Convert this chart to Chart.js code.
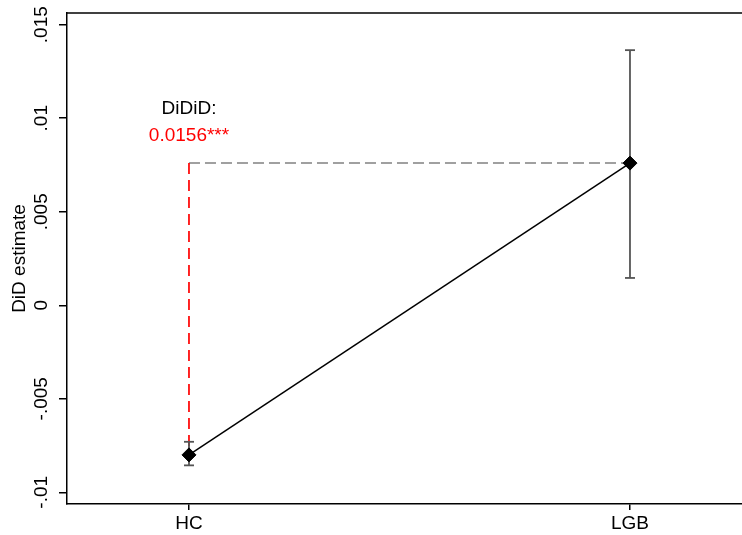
<!DOCTYPE html>
<html>
<head>
<meta charset="utf-8">
<script src="https://cdn.jsdelivr.net/npm/chart.js@4.4.1/dist/chart.umd.min.js"></script>
<style>
  html, body { margin: 0; padding: 0; background: #fff; overflow: hidden; }
  canvas { display: block; }
</style>
</head>
<body>
<canvas id="c" width="742" height="535"></canvas>
<script>
// ---- data ----
const categories = ['HC', 'LGB'];
const estimates = [-0.0080, 0.0076];
const ciLow = [-0.00856, 0.00146];
const ciHigh = [-0.0073, 0.01364];
const yTickValues = [-0.01, -0.005, 0, 0.005, 0.01, 0.015];
const yTickLabels = ['-.01', '-.005', '0', '.005', '.01', '.015'];
const dididTitle = 'DiDiD:';
const dididValue = '0.0156***';
const yTitle = 'DiD estimate';

const FONT = '"Liberation Sans", Arial, sans-serif';
const xPos = categories.map((c, i) => i + 1);

const datasets = [];
// main line with diamonds (on top)
datasets.push({
  data: xPos.map((x, i) => ({x, y: estimates[i]})),
  borderColor: '#000', borderWidth: 1.5,
  pointStyle: 'rectRot', pointRadius: 7, pointHoverRadius: 7,
  pointBackgroundColor: '#000', pointBorderColor: '#000', pointBorderWidth: 1
});
// confidence intervals
xPos.forEach((x, i) => {
  datasets.push({
    data: [{x, y: ciLow[i]}, {x, y: ciHigh[i]}],
    borderColor: '#555', borderWidth: 1.8,
    pointStyle: 'line', pointRadius: 5, pointHoverRadius: 5,
    pointBorderColor: '#555', pointBorderWidth: 1.8
  });
});
// red dashed vertical (difference)
datasets.push({
  data: [{x: xPos[0], y: estimates[1]}, {x: xPos[0], y: estimates[0]}],
  borderColor: '#ff0000', borderWidth: 1.7, borderDash: [11, 6],
  pointRadius: 0
});
// grey dashed horizontal
datasets.push({
  data: [{x: xPos[0], y: estimates[1]}, {x: xPos[1], y: estimates[1]}],
  borderColor: '#a0a0a0', borderWidth: 2, borderDash: [11, 5],
  pointRadius: 0
});

const frame = {
  id: 'frame',
  afterDraw(chart) {
    const {ctx, chartArea: a, scales} = chart;
    ctx.save();
    ctx.strokeStyle = '#000';
    ctx.lineWidth = 1.5;
    ctx.beginPath();
    ctx.moveTo(a.left, a.top);
    ctx.lineTo(a.right, a.top);
    ctx.stroke();
    const px = scales.x.getPixelForValue(xPos[0]);
    const py = scales.y.getPixelForValue(estimates[1]);
    ctx.font = '19px ' + FONT;
    ctx.textAlign = 'center';
    ctx.textBaseline = 'middle';
    ctx.fillStyle = '#000';
    ctx.fillText(dididTitle, px, py - 54);
    ctx.fillStyle = '#ff0000';
    ctx.fillText(dididValue, px, py - 27);
    ctx.restore();
  }
};

new Chart(document.getElementById('c'), {
  type: 'line',
  data: { datasets },
  options: {
    responsive: false, animation: false, devicePixelRatio: 1,
    layout: { autoPadding: false, padding: { top: 13, right: 0, left: 0, bottom: 0 } },
    plugins: { legend: { display: false }, tooltip: { enabled: false } },
    scales: {
      x: {
        type: 'linear', min: 0.7234, max: 2.254,
        afterBuildTicks: s => { s.ticks = xPos.map(v => ({value: v})); },
        afterFit: s => { s.height = 31; s.paddingLeft = 0; s.paddingRight = 0; },
        ticks: {
          callback: v => categories[Math.round(v) - 1],
          font: { family: FONT, size: 19 }, color: '#000', padding: 2,
          maxRotation: 0, minRotation: 0
        },
        grid: { drawOnChartArea: false, drawTicks: true, tickLength: 6, color: '#000', lineWidth: 1.5 },
        border: { display: true, color: '#000', width: 1.5 }
      },
      y: {
        type: 'linear', min: -0.010626, max: 0.015626,
        afterBuildTicks: s => { s.ticks = yTickValues.map(v => ({value: v})); },
        afterFit: s => { s.width = 67; s.paddingTop = 0; s.paddingBottom = 0; s.paddingLeft = 0; s.paddingRight = 0; },
        ticks: {
          callback: (v, i) => yTickLabels[i],
          font: { family: FONT, size: 19 }, color: '#000',
          minRotation: 90, maxRotation: 90, crossAlign: 'center', padding: -4
        },
        grid: { drawOnChartArea: false, drawTicks: true, tickLength: 8, color: '#000', lineWidth: 1.5 },
        border: { display: true, color: '#000', width: 1.5 },
        title: { display: true, text: yTitle, font: { family: FONT, size: 19 }, color: '#000', padding: { top: 8, bottom: 0 } }
      }
    }
  },
  plugins: [frame]
});
</script>
</body>
</html>
